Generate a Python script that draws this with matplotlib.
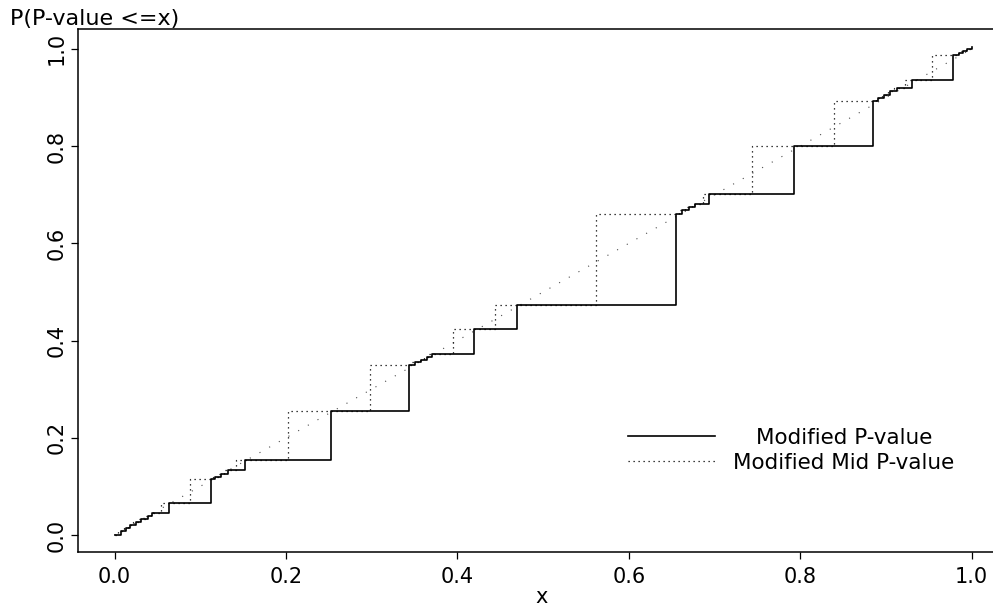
import matplotlib.pyplot as plt
from matplotlib.lines import Line2D

# attained values of the modified P-value and the CDF level reached there
pval_x = [0.000, 0.008, 0.013, 0.018, 0.025, 0.031, 0.039, 0.044, 0.063, 0.112,
          0.117, 0.124, 0.132, 0.152, 0.252, 0.344, 0.350, 0.357, 0.364, 0.370,
          0.419, 0.469, 0.655, 0.662, 0.670, 0.677, 0.694, 0.793, 0.885, 0.891,
          0.898, 0.905, 0.913, 0.930, 0.978, 0.985, 0.990, 0.995, 1.000]
cdf_y = [0.000, 0.009, 0.014, 0.020, 0.026, 0.032, 0.040, 0.045, 0.065, 0.115,
         0.120, 0.126, 0.133, 0.155, 0.256, 0.349, 0.355, 0.361, 0.367, 0.373,
         0.423, 0.474, 0.661, 0.668, 0.674, 0.681, 0.701, 0.800, 0.893, 0.899,
         0.906, 0.914, 0.920, 0.936, 0.987, 0.992, 0.996, 1.000, 1.004]
# attained values of the modified mid P-value (same CDF levels)
midp_x = [0.000, 0.004, 0.011, 0.016, 0.022, 0.028, 0.035, 0.042, 0.054, 0.088,
          0.115, 0.121, 0.128, 0.142, 0.202, 0.298, 0.347, 0.354, 0.361, 0.367,
          0.395, 0.444, 0.562, 0.659, 0.666, 0.674, 0.686, 0.744, 0.839, 0.888,
          0.895, 0.902, 0.909, 0.922, 0.954, 0.982, 0.988, 0.993, 0.998]
ref_line = [0.0, 1.0]

ticks = [0.0, 0.2, 0.4, 0.6, 0.8, 1.0]
tick_labels = ['0.0', '0.2', '0.4', '0.6', '0.8', '1.0']

plt.rcParams['font.family'] = ['DejaVu Sans']

fig = plt.figure(figsize=(9.93, 6.09), dpi=100)
ax = fig.add_axes([78 / 993, 57 / 609, 928 / 993, 523 / 609])

ax.plot(ref_line, ref_line, color='0.3', lw=0.8, linestyle=(0, (1, 9)))
ax.step(pval_x, cdf_y, where='post', color='black', lw=1.2)
ax.step(midp_x, cdf_y, where='post', color='black', lw=0.9, linestyle=(0, (1, 3)))

ax.set_xlim(-0.0426, 1.04)
ax.set_ylim(-0.035, 1.041)
ax.set_xticks(ticks)
ax.set_xticklabels(tick_labels)
ax.set_yticks(ticks)
ax.set_yticklabels(tick_labels, rotation=90, va='center')
ax.tick_params(length=5, width=0.9, direction='out', labelsize=15)
ax.tick_params(axis='x', pad=6)
ax.tick_params(axis='y', pad=3)
ax.set_xlabel('x', fontsize=15, labelpad=0)
for s in ax.spines.values():
    s.set_linewidth(1.1)

fig.text(10 / 993, 1 - 19 / 609, 'P(P-value <=x)', fontsize=16, va='center', ha='left')

# legend, drawn by hand so the labels can be centred like the original
leg_rows = [('Modified P-value', '-', 1.2), ('Modified Mid P-value', (0, (1, 3)), 0.9)]
for i, (label, ls, lw) in enumerate(leg_rows):
    yy = 1 - (436 + 25 * i) / 609
    fig.add_artist(Line2D([628 / 993, 715 / 993], [yy, yy], color='black',
                          lw=lw, linestyle=ls, transform=fig.transFigure))
    fig.text(844 / 993, yy - 2 / 609, label, fontsize=15.5, ha='center', va='center')

fig.savefig('out.png', dpi=100)
